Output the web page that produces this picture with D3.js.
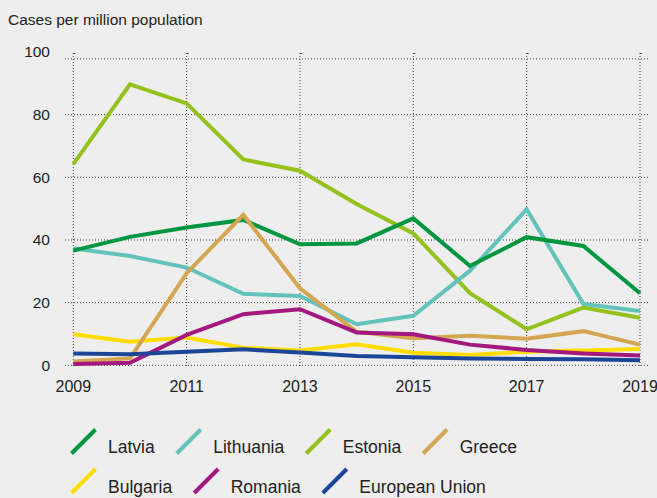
<!DOCTYPE html>
<meta charset="utf-8">
<style>
body { margin: 0; background: #eeeeee; }
svg { display: block; font-family: "Liberation Sans", Arial, sans-serif; }
.grid line { stroke: #444; stroke-width: 1; stroke-dasharray: 1 2; }
.series path { fill: none; stroke-width: 4; stroke-linejoin: miter; }
</style>
<svg width="657" height="498"></svg>
<script src="https://d3js.org/d3.v7.min.js"></script>
<script>
var years = [2009, 2010, 2011, 2012, 2013, 2014, 2015, 2016, 2017, 2018, 2019];
var xTicks = [2009, 2011, 2013, 2015, 2017, 2019];
var yTicks = [0, 20, 40, 60, 80, 100];

var latvia    = [36.6, 41.0, 44.0, 46.4, 38.6, 38.9, 46.9, 31.7, 40.9, 38.1, 23.0];
var lithuania = [37.3, 34.9, 31.2, 22.8, 22.1, 13.1, 15.8, 30.2, 49.8, 19.6, 17.3];
var estonia   = [64.2, 89.7, 83.6, 65.7, 62.1, 51.5, 42.1, 23.0, 11.5, 18.4, 15.2];
var greece    = [1.2, 2.2, 29.4, 48.0, 24.6, 10.7, 8.6, 9.4, 8.5, 10.9, 6.6];
var bulgaria  = [9.9, 7.5, 8.9, 5.6, 4.7, 6.7, 4.0, 3.3, 4.3, 4.7, 5.2];
var romania   = [0.4, 0.8, 9.7, 16.3, 17.9, 10.5, 9.9, 6.6, 4.9, 3.8, 3.1];
var eu        = [3.8, 3.5, 4.3, 5.1, 4.1, 3.0, 2.6, 2.2, 2.0, 1.9, 1.6];

var names  = ["Latvia", "Lithuania", "Estonia", "Greece", "Bulgaria", "Romania", "European Union"];
var colors = ["#009640", "#63c3bb", "#95c11f", "#d4a651", "#ffdd00", "#a3177f", "#1b4597"];
var values = [latvia, lithuania, estonia, greece, bulgaria, romania, eu];
// drawing order, last on top
var drawOrder = [2, 1, 0, 4, 3, 5, 6];

var svg = d3.select("svg");

var x = d3.scaleLinear().domain([2009, 2019]).range([73.3, 640]);
var y = d3.scaleLinear().domain([0, 100]).range([365.3, 52]);

svg.append("text")
    .attr("x", 8).attr("y", 25)
    .attr("font-size", 15.5).attr("fill", "#222")
    .text("Cases per million population");

// grid
var grid = svg.append("g").attr("class", "grid");
grid.selectAll(".h")
  .data(yTicks.slice(0, -1))
  .enter().append("line")
    .attr("x1", 65).attr("x2", 648)
    .attr("y1", function(d) { return y(d); })
    .attr("y2", function(d) { return y(d); });
// top frame line sits a bit under the 100 label
grid.append("line")
    .attr("x1", 65).attr("x2", 648)
    .attr("y1", y(97.8)).attr("y2", y(97.8));
grid.selectAll(".v")
  .data(xTicks)
  .enter().append("line")
    .attr("x1", function(d) { return x(d); })
    .attr("x2", function(d) { return x(d); })
    .attr("y1", 53).attr("y2", y(0) + 2);
grid.selectAll(".cap")
  .data(xTicks)
  .enter().append("line")
    .style("stroke-dasharray", "none")
    .attr("x1", function(d) { return x(d); })
    .attr("x2", function(d) { return x(d) + 2; })
    .attr("y1", 53.5).attr("y2", 53.5);

// axis labels
svg.append("g").selectAll("text")
  .data(yTicks)
  .enter().append("text")
    .attr("x", 50)
    .attr("y", function(d) { return y(d); })
    .attr("dy", "0.35em")
    .attr("text-anchor", "end")
    .attr("font-size", 15.5).attr("fill", "#222")
    .text(function(d) { return d; });

svg.append("g").selectAll("text")
  .data(xTicks)
  .enter().append("text")
    .attr("x", function(d) { return x(d); })
    .attr("y", 392)
    .attr("text-anchor", "middle")
    .attr("font-size", 16).attr("fill", "#222")
    .text(function(d) { return d; });

// lines
var line = d3.line()
    .x(function(d, i) { return x(years[i]); })
    .y(function(d) { return y(d); });

svg.append("g").attr("class", "series")
  .selectAll("path")
  .data(drawOrder)
  .enter().append("path")
    .attr("stroke", function(k) { return colors[k]; })
    .attr("d", function(k) { return line(values[k]); });

// legend
var rows = [[0, 1, 2, 3], [4, 5, 6]];
var rowY = [453, 492.5];
var legend = svg.append("g");
rows.forEach(function(row, r) {
  var cx = 70.5;
  row.forEach(function(k) {
    legend.append("line")
        .attr("x1", cx + 1).attr("y1", rowY[r] + 0.5)
        .attr("x2", cx + 25).attr("y2", rowY[r] - 23.5)
        .attr("stroke", colors[k])
        .attr("stroke-width", 4);
    var t = legend.append("text")
        .attr("x", cx + 37.5).attr("y", rowY[r])
        .attr("font-size", 17.5).attr("fill", "#222")
        .text(names[k]);
    cx = cx + 37.5 + t.node().getComputedTextLength() + 21;
  });
});
</script>
